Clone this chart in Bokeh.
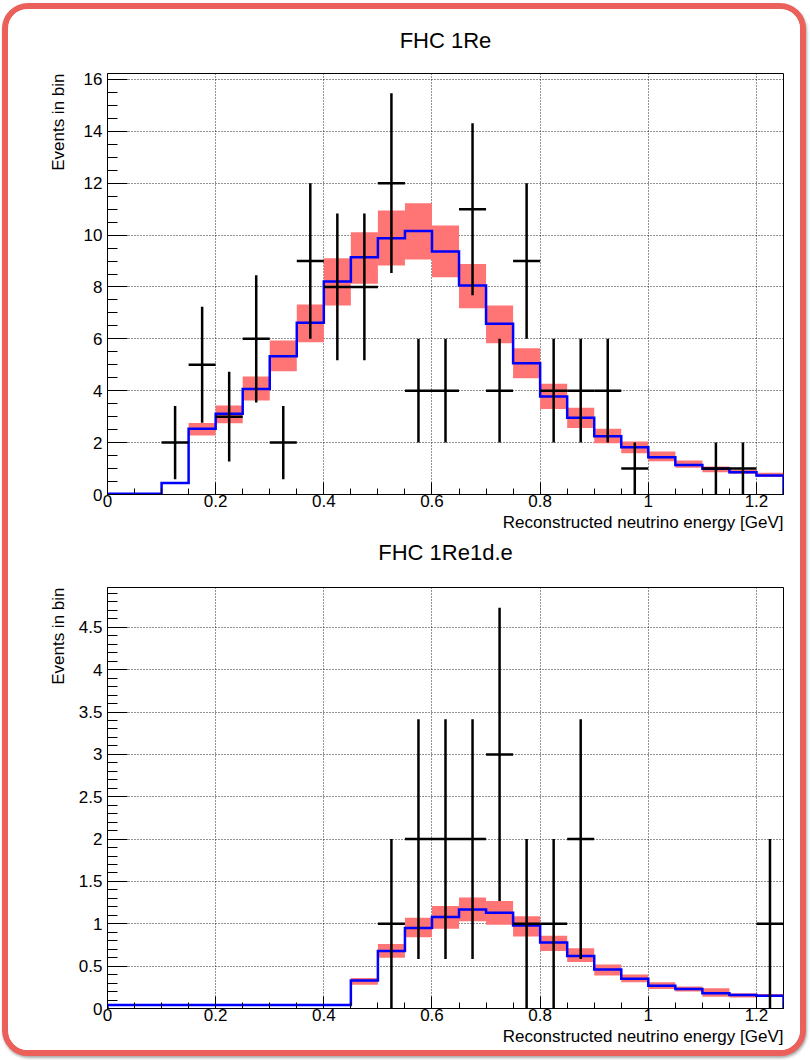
import numpy as np
from bokeh.plotting import figure
from bokeh.layouts import column
from bokeh.models import FixedTicker, CustomJSTickFormatter, Range1d, Title
from bokeh.embed import file_html
from bokeh.resources import INLINE

FONT = "Liberation Sans"

# Binning: 25 bins of 0.05 GeV from 0 to 1.25 GeV
edges = np.round(np.arange(0.0, 1.2501, 0.05), 2)

# ---- FHC 1Re ----
re_mc = [0.03, 0.03, 0.44, 2.53, 3.11, 4.07, 5.33, 6.62, 8.21, 9.15, 9.88, 10.16, 9.37,
         8.06, 6.58, 5.06, 3.78, 2.96, 2.25, 1.82, 1.44, 1.14, 0.99, 0.86, 0.73]
re_band_lo = [0.02, 0.02, 0.40, 2.27, 2.75, 3.62, 4.75, 5.87, 7.29, 8.12, 8.83, 9.06, 8.38,
              7.18, 5.83, 4.48, 3.30, 2.56, 1.98, 1.59, 1.28, 1.03, 0.86, 0.80, 0.67]
re_band_hi = [0.04, 0.04, 0.48, 2.76, 3.43, 4.55, 5.94, 7.32, 9.11, 10.11, 10.95, 11.23, 10.37,
              8.89, 7.29, 5.64, 4.27, 3.34, 2.53, 2.04, 1.66, 1.31, 1.08, 0.95, 0.84]
re_data = [0, 0, 2, 5, 3, 6, 2, 9, 8, 8, 12, 4, 4, 11, 4, 9, 4, 4, 4, 1, 0, 0, 1, 1, 0]

# ---- FHC 1Re1d.e ----
de_mc = [0.04, 0.04, 0.04, 0.04, 0.04, 0.04, 0.04, 0.04, 0.04, 0.33, 0.68, 0.95, 1.08,
         1.17, 1.13, 0.98, 0.78, 0.62, 0.46, 0.35, 0.27, 0.23, 0.18, 0.16, 0.15]
de_band_lo = [0.03, 0.03, 0.03, 0.03, 0.03, 0.03, 0.03, 0.03, 0.03, 0.28, 0.60, 0.84, 0.94,
              1.03, 0.99, 0.85, 0.68, 0.55, 0.39, 0.31, 0.23, 0.20, 0.14, 0.13, 0.14]
de_band_hi = [0.05, 0.05, 0.05, 0.05, 0.05, 0.05, 0.05, 0.05, 0.05, 0.36, 0.76, 1.07, 1.21,
              1.31, 1.27, 1.09, 0.86, 0.71, 0.52, 0.40, 0.31, 0.26, 0.24, 0.18, 0.17]
de_data = [0, 0, 0, 0, 0, 0, 0, 0, 0, 0, 1, 2, 2, 2, 3, 1, 1, 2, 0, 0, 0, 0, 0, 0, 1]

titles = ["FHC 1Re", "FHC 1Re1d.e"]
x_title = "Reconstructed neutrino energy [GeV]"
y_title = "Events in bin"

x_major = [0, 0.2, 0.4, 0.6, 0.8, 1.0, 1.2]
x_minor = list(np.round(np.arange(0.0, 1.2501, 0.05), 2))

PLOT_W = 792


def text_title(text, size, align, vertical_align, standoff):
    return Title(text=text, align=align, vertical_align=vertical_align, standoff=standoff,
                 text_font=FONT, text_font_size=size, text_font_style="normal",
                 text_color="black")


def make_panel(mc, band_lo, band_hi, data, ymax, y_major, y_minor,
               height, border_top, border_bottom, y_title_standoff,
               x_title_valign, x_title_standoff):
    p = figure(width=PLOT_W, height=height,
               x_range=Range1d(0, 1.25), y_range=Range1d(0, ymax),
               output_backend="svg", toolbar_location=None,
               min_border_left=99, min_border_right=17,
               min_border_top=border_top, min_border_bottom=border_bottom,
               background_fill_color="white", border_fill_color="white")

    p.outline_line_color = "black"
    p.outline_line_width = 1
    p.outline_line_alpha = 1

    fmt = CustomJSTickFormatter(code="return String(Math.round(tick * 100) / 100);")

    xa = p.xaxis[0]
    xa.ticker = FixedTicker(ticks=x_major, minor_ticks=x_minor)
    xa.formatter = fmt
    xa.major_tick_in, xa.major_tick_out = 12, 0
    xa.minor_tick_in, xa.minor_tick_out = 6, 0
    xa.major_label_standoff = 0

    ya = p.yaxis[0]
    ya.ticker = FixedTicker(ticks=y_major, minor_ticks=y_minor)
    ya.formatter = fmt
    ya.major_tick_in, ya.major_tick_out = 20, 0
    ya.minor_tick_in, ya.minor_tick_out = 10, 0
    ya.major_label_standoff = 5

    for ax in (xa, ya):
        ax.axis_line_color = "black"
        ax.major_tick_line_color = "black"
        ax.minor_tick_line_color = "black"
        ax.major_label_text_font = FONT
        ax.major_label_text_font_size = "17px"
        ax.major_label_text_color = "black"

    for g in (p.xgrid[0], p.ygrid[0]):
        g.grid_line_color = "black"
        g.grid_line_alpha = 0.85
        g.grid_line_dash = "1 2"
        g.grid_line_width = 1

    # systematic band
    p.quad(left=edges[:-1], right=edges[1:], bottom=band_lo, top=band_hi,
           fill_color="#ff7474", line_color=None)

    # prediction as a closed step outline
    mc = np.asarray(mc)
    xs = np.repeat(edges, 2)
    ys = np.concatenate([[0.0], np.repeat(mc, 2), [0.0]])
    p.line(xs, ys, line_color="#0000ff", line_width=2.5, line_join="miter")

    # observed events with Poisson error bars
    d = np.asarray(data, dtype=float)
    m = d > 0
    err = np.sqrt(d)
    centers = (edges[:-1] + edges[1:]) / 2
    p.segment(x0=centers[m], y0=(d - err)[m], x1=centers[m], y1=(d + err)[m],
              line_color="black", line_width=2.5)
    p.segment(x0=edges[:-1][m], y0=d[m], x1=edges[1:][m], y1=d[m],
              line_color="black", line_width=2.5)

    # axis titles, ROOT style: y title at the top end, x title at the right end
    p.add_layout(text_title(y_title, "17px", "right", "bottom", y_title_standoff), "left")
    p.add_layout(text_title(x_title, "17px", "right", x_title_valign, x_title_standoff), "below")
    return p


p1 = make_panel(re_mc, re_band_lo, re_band_hi, re_data, 16.23,
                list(range(0, 17, 2)), list(np.round(np.arange(0, 16.3, 0.5), 2)),
                height=563, border_top=64, border_bottom=78,
                y_title_standoff=25, x_title_valign="top", x_title_standoff=7)
p1.title = text_title(titles[0], "22px", "center", "top", 37)
# heading of the lower pad sits directly under the upper pad's axis title
p1.add_layout(text_title(titles[1], "22px", "center", "top", 4), "below")

p2 = make_panel(de_mc, de_band_lo, de_band_hi, de_data, 4.97,
                list(np.round(np.arange(0, 4.51, 0.5), 2)), list(np.round(np.arange(0, 4.95, 0.1), 2)),
                height=478, border_top=15, border_bottom=42,
                y_title_standoff=16, x_title_valign="bottom", x_title_standoff=3)

layout = column(p1, p2, margin=(3, 4, 4, 2),
                styles={"border": "6px solid #ec605b", "border-radius": "26px",
                        "box-shadow": "1px 2px 3px rgba(0,0,0,0.35)",
                        "background": "white", "overflow": "hidden"})

open("out.html", "w").write(file_html(layout, INLINE))
